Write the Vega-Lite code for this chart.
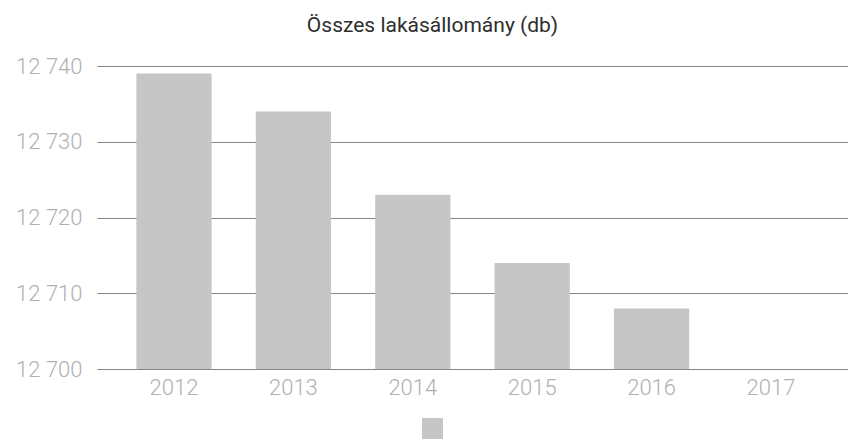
{
  "$schema": "https://vega.github.io/schema/vega-lite/v6.json",
  "width": 751,
  "height": 303,
  "autosize": {"type": "none"},
  "padding": {"left": 97, "top": 66, "right": 0, "bottom": 70},
  "background": "white",
  "title": {
    "text": "Összes lakásállomány (db)",
    "font": "Roboto",
    "fontSize": 21,
    "fontWeight": "normal",
    "color": "#2e2e2e",
    "anchor": "middle",
    "dx": -40,
    "baseline": "alphabetic",
    "offset": 2
  },
  "data": {
    "values": [
      {"ev": "2012", "db": 12739, "sorozat": "Összes lakásállomány"},
      {"ev": "2013", "db": 12734, "sorozat": "Összes lakásállomány"},
      {"ev": "2014", "db": 12723, "sorozat": "Összes lakásállomány"},
      {"ev": "2015", "db": 12714, "sorozat": "Összes lakásállomány"},
      {"ev": "2016", "db": 12708, "sorozat": "Összes lakásállomány"},
      {"ev": "2017", "db": null, "sorozat": "Összes lakásállomány"}
    ]
  },
  "mark": {"type": "bar", "cornerRadius": 1},
  "encoding": {
    "x": {
      "field": "ev",
      "type": "nominal",
      "scale": {"domain": ["2012", "2013", "2014", "2015", "2016", "2017"], "paddingInner": 0.37, "paddingOuter": 0.33},
      "axis": {
        "title": null,
        "labelAngle": 0,
        "labelFont": "Roboto",
        "labelFontWeight": 300,
        "labelFontSize": 22,
        "labelColor": "#b0b0b0",
        "labelPadding": 8,
        "ticks": false,
        "domain": false,
        "grid": false
      }
    },
    "y": {
      "field": "db",
      "type": "quantitative",
      "scale": {"domain": [12700, 12740], "zero": false, "nice": false},
      "axis": {
        "title": null,
        "values": [12700, 12710, 12720, 12730, 12740],
        "labelExpr": "replace(format(datum.value, ','), ',', ' ')",
        "labelFont": "Roboto",
        "labelFontWeight": 300,
        "labelFontSize": 22,
        "labelColor": "#b0b0b0",
        "labelPadding": 15,
        "ticks": false,
        "domain": false,
        "grid": true,
        "gridColor": "#858585",
        "gridWidth": 1
      }
    },
    "y2": {"datum": 12700},
    "color": {
      "field": "sorozat",
      "type": "nominal",
      "scale": {"range": ["#c6c6c6"]},
      "legend": {
        "title": null,
        "orient": "none",
        "legendX": 325,
        "legendY": 352,
        "labelExpr": "''",
        "symbolType": "square",
        "symbolSize": 441,
        "symbolOpacity": 1,
        "symbolStrokeWidth": 0,
        "padding": 0
      }
    }
  },
  "config": {"view": {"stroke": null}}
}
